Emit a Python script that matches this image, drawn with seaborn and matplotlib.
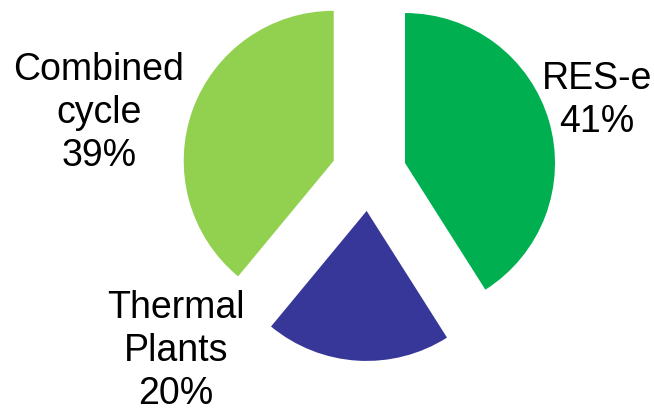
import matplotlib
matplotlib.use("Agg")
import matplotlib.pyplot as plt
import seaborn as sns

# share of each source, clockwise from the top
sources = ["RES-e", "Thermal\nPlants", "Combined\ncycle"]
shares = [41, 20, 39]
colors = ["#00B050", "#363798", "#92D050"]

# where each label sits (data units, pie radius = 1)
label_pos = [(1.52, 0.485), (-1.287, -1.18), (-1.80, 0.405)]

sns.set_theme(style="white")
plt.rcParams["font.family"] = ["Liberation Sans", "DejaVu Sans"]

fig = plt.figure(figsize=(6.54, 4.11), dpi=100)
ax = fig.add_axes([0, 0, 1, 1])

ax.pie(shares, colors=sns.color_palette(colors), startangle=90, counterclock=False,
       explode=[0.25] * len(shares), radius=1,
       wedgeprops=dict(linewidth=0))

for name, val, (x, y) in zip(sources, shares, label_pos):
    ax.text(x, y, f"{name}\n{val}%", ha="center", va="center",
            fontsize=27, color="black", linespacing=1.25)

# 150 px per unit in both directions, pie centre at about (369, 173) px
ax.set_xlim(-369 / 150, (654 - 369) / 150)
ax.set_ylim(-(411 - 173.5) / 150, 173.5 / 150)
ax.set_aspect("auto")
ax.axis("off")

fig.savefig("out.png", dpi=100)
